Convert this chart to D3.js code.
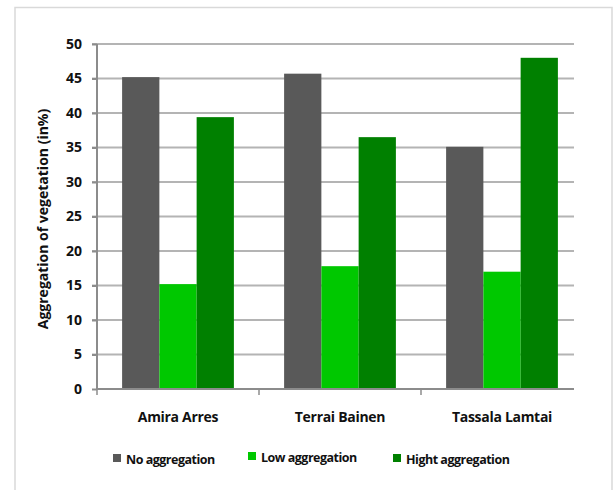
<!DOCTYPE html>
<html>
<head>
<meta charset="utf-8">
<script src="https://cdn.jsdelivr.net/npm/d3@7"></script>
<style>
  body { margin: 0; background: #fff; }
  text { font-family: "Open Sans", "Liberation Sans", sans-serif; font-weight: bold; fill: #111; }
</style>
</head>
<body>
<div id="chart"></div>
<script>
// data
var sites = ["Amira Arres", "Terrai Bainen", "Tassala Lamtai"];
var seriesNames = ["No aggregation", "Low aggregation", "Hight aggregation"];
var noAggregation = [45.2, 45.7, 35.1];
var lowAggregation = [15.2, 17.8, 17.0];
var hightAggregation = [39.4, 36.5, 48.0];
var yTicks = [0, 5, 10, 15, 20, 25, 30, 35, 40, 45, 50];
var colors = ["#595959", "#00c800", "#008000"];

var width = 614, height = 490;
var plotLeft = 97, plotTop = 44, plotBottom = 389, gridRight = 574;

var svg = d3.select("#chart").append("svg")
  .attr("width", width)
  .attr("height", height);

// light frame round the chart
svg.append("rect")
  .attr("x", 15).attr("y", 7.5)
  .attr("width", 597).attr("height", 500)
  .attr("fill", "none")
  .attr("stroke", "#d9d9d9")
  .attr("stroke-width", 1.5);

var y = d3.scaleLinear().domain([0, 50]).range([plotBottom, plotTop]);
var x0 = d3.scaleBand().domain(sites).range([plotLeft, plotLeft + 3 * 162]).paddingInner(0.31).paddingOuter(0.155);
var x1 = d3.scaleBand().domain(seriesNames).range([0, x0.bandwidth()]);

var rows = sites.map(function (s, i) {
  return {site: s, values: [noAggregation[i], lowAggregation[i], hightAggregation[i]]};
});

// gridlines
svg.append("g").selectAll("line").data(yTicks.filter(function (d) { return d > 0; })).enter().append("line")
  .attr("x1", plotLeft - 5).attr("x2", gridRight)
  .attr("y1", function (d) { return y(d); })
  .attr("y2", function (d) { return y(d); })
  .attr("stroke", "#b4b4b4")
  .attr("stroke-width", 2);

// bars
var groups = svg.append("g").selectAll("g").data(rows).enter().append("g")
  .attr("transform", function (d) { return "translate(" + x0(d.site) + ",0)"; });

groups.selectAll("rect").data(function (d) { return d.values; }).enter().append("rect")
  .attr("x", function (d, i) { return x1(seriesNames[i]); })
  .attr("width", x1.bandwidth())
  .attr("y", function (d) { return y(d); })
  .attr("height", function (d) { return plotBottom - y(d); })
  .attr("fill", function (d, i) { return colors[i]; });

// y axis
var yAxis = svg.append("g")
  .attr("transform", "translate(" + plotLeft + ",0)")
  .call(d3.axisLeft(y).tickValues(yTicks).tickSize(5).tickPadding(10));
yAxis.select(".domain").attr("stroke", "#8c8c8c").attr("stroke-width", 2).attr("d", "M0," + plotTop + "V" + (plotBottom + 1));
yAxis.selectAll(".tick line").attr("stroke", "#8c8c8c").attr("stroke-width", 2);
yAxis.selectAll(".tick text").attr("font-size", 14).attr("font-family", null).attr("fill", "#111");

// x axis line with category dividers
svg.append("line")
  .attr("x1", plotLeft).attr("x2", gridRight)
  .attr("y1", plotBottom).attr("y2", plotBottom)
  .attr("stroke", "#8c8c8c").attr("stroke-width", 2);
var dividers = [plotLeft, plotLeft + 162, plotLeft + 324];
svg.append("g").selectAll("line").data(dividers).enter().append("line")
  .attr("x1", function (d) { return d; }).attr("x2", function (d) { return d; })
  .attr("y1", plotBottom).attr("y2", plotBottom + 6)
  .attr("stroke", "#8c8c8c").attr("stroke-width", 1.5);

svg.append("g").selectAll("text").data(sites).enter().append("text")
  .attr("x", function (d) { return x0(d) + x0.bandwidth() / 2; })
  .attr("y", 422)
  .attr("text-anchor", "middle")
  .attr("font-size", 14)
  .attr("letter-spacing", -0.3)
  .text(function (d) { return d; });

// y title
svg.append("text")
  .attr("transform", "translate(48,219) rotate(-90)")
  .attr("text-anchor", "middle")
  .attr("font-size", 14)
  .attr("letter-spacing", 0)
  .text("Aggregation of vegetation (in%)");

// legend
var legendX = [113, 248, 393];
var legendY = [464, 462, 464];
var legend = svg.append("g").selectAll("g").data(seriesNames).enter().append("g")
  .attr("transform", function (d, i) { return "translate(" + legendX[i] + "," + legendY[i] + ")"; });
legend.append("rect")
  .attr("x", 0).attr("y", -10)
  .attr("width", 8).attr("height", 8)
  .attr("fill", function (d, i) { return colors[i]; });
legend.append("text")
  .attr("x", 13).attr("y", 0)
  .attr("font-size", 12.5)
  .attr("letter-spacing", -0.5)
  .text(function (d) { return d; });
</script>
</body>
</html>
